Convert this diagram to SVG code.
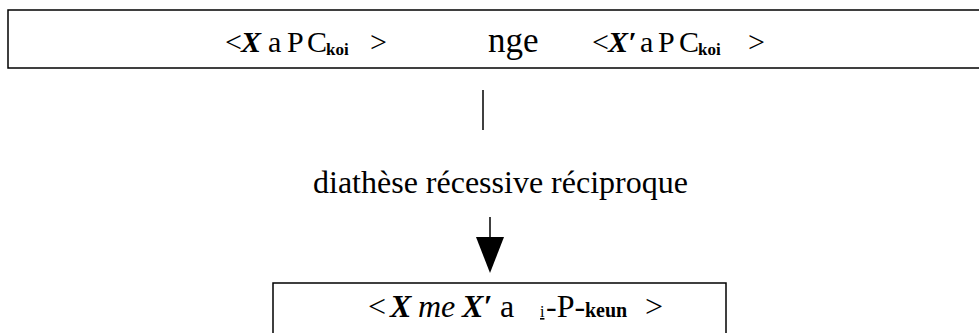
<svg xmlns="http://www.w3.org/2000/svg" width="979" height="333" viewBox="0 0 979 333">
<style>
text{font-family:'Liberation Serif','Times New Roman',Times,serif;fill:#000}
.box{fill:#fff;stroke:#000;stroke-width:1.5}
.bi{font-weight:bold;font-style:italic}
.sb{font-weight:bold}
.conn{stroke:#000;stroke-width:1.5;fill:none}
</style>
<rect width="979" height="333" fill="#fff"/>
<g id="source">
<rect class="box" x="8" y="10" width="990" height="58"/>
<text font-size="30" y="52"><tspan x="225">&lt;</tspan><tspan x="241" class="bi">X</tspan><tspan x="268">a</tspan><tspan x="287">P</tspan><tspan x="307">C</tspan><tspan x="326" class="sb" font-size="17" dy="3">koi</tspan><tspan x="370" dy="-3">&gt;</tspan></text>
<text font-size="35" x="488" y="52">nge</text>
<text font-size="30" y="52"><tspan x="592">&lt;</tspan><tspan x="608" class="bi">X′</tspan><tspan x="640">a</tspan><tspan x="658">P</tspan><tspan x="679">C</tspan><tspan x="698" class="sb" font-size="17" dy="3">koi</tspan><tspan x="748" dy="-3">&gt;</tspan></text>
</g>
<g id="label">
<text font-size="32" x="313" y="193">diathèse récessive réciproque</text>
</g>
<g id="result">
<rect class="box" x="273" y="283" width="453" height="70"/>
<text font-size="32" y="317"><tspan x="368">&lt;</tspan><tspan x="390" class="bi">X</tspan><tspan x="418" font-style="italic">me</tspan><tspan x="462" class="bi">X′</tspan><tspan x="500">a</tspan><tspan x="540" font-size="16" text-decoration="underline">i</tspan><tspan x="546">-P-</tspan><tspan x="585" class="sb" font-size="20">keun</tspan><tspan x="645">&gt;</tspan></text>
</g>
<g id="connectors">
<line class="conn" x1="483" y1="90" x2="483" y2="130"/>
<line class="conn" x1="490" y1="217" x2="490" y2="238"/>
<polygon points="476,237 504,237 490,273" fill="#000"/>
</g>
</svg>
